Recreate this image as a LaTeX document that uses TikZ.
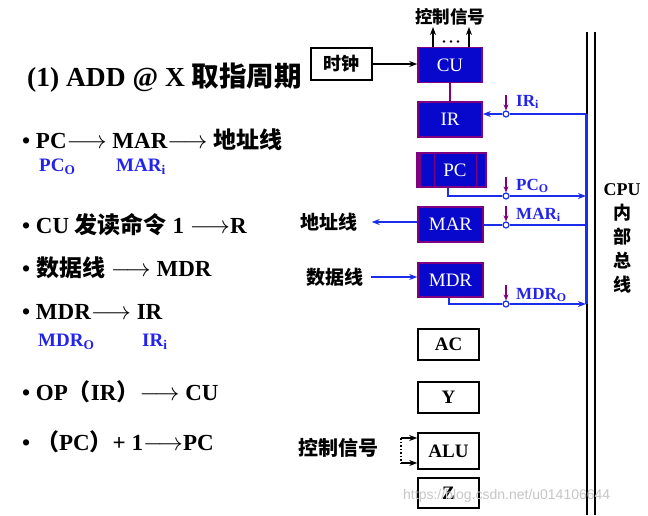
\documentclass[tikz,border=0pt]{standalone}
\usepackage{fontspec}
\setmainfont{Liberation Serif}
\newfontfamily\cjk{Noto Sans CJK SC}
\newfontfamily\wmfont{Liberation Sans}
\newcommand{\zh}[1]{{\cjk #1}}
\usepackage{xcolor}
\usepackage{tikz}
\usetikzlibrary{arrows.meta,positioning,calc}
\definecolor{regblue}{RGB}{8,8,205}
\definecolor{regpurple}{RGB}{128,0,128}
\definecolor{busblue}{RGB}{25,45,235}
\definecolor{sigblue}{RGB}{35,35,235}
\tikzstyle{reg} = [draw=regpurple, fill=regblue, line width=1.6pt, text=white, font=\fontsize{19}{19}\selectfont, minimum width=64pt, minimum height=35pt, inner sep=0pt]
\tikzstyle{wreg} = [draw=black, fill=white, line width=1.6pt, font=\fontsize{19}{19}\selectfont\bfseries, minimum width=61pt, minimum height=31pt, inner sep=0pt]
\tikzstyle{arrow} = [line width=1.2pt,-{Stealth[length=8pt,width=6pt]}]
\tikzstyle{bus} = [draw=busblue, line width=1.8pt]
\tikzstyle{busarrow} = [bus,-{Stealth[length=8pt,width=6pt]}]
\tikzstyle{gate} = [circle, draw=busblue, fill=white, line width=1.2pt, inner sep=0pt, minimum size=6pt]
\tikzstyle{ctrl} = [draw=regpurple, line width=1.4pt, -{Stealth[length=6pt,width=5pt]}]
\tikzstyle{listitem} = [anchor=west, inner sep=0pt, font=\fontsize{23}{23}\selectfont\bfseries]
\tikzstyle{subsig} = [anchor=west, inner sep=0pt, text=sigblue, font=\fontsize{19}{19}\selectfont\bfseries]
\tikzstyle{siglabel} = [anchor=west, inner sep=0pt, text=sigblue, font=\fontsize{17}{17}\selectfont\bfseries]
\tikzstyle{side} = [font=\fontsize{19}{19}\selectfont\bfseries, inner ysep=0pt]

\begin{document}
\begin{tikzpicture}[x=1pt, y=-1pt]
    \fill[white] (0,0) rectangle (648,515);
    \useasboundingbox (0,0) rectangle (648,515);
    % title and steps
    \node[listitem, font=\fontsize{27.5}{27.5}\selectfont\bfseries] (title) at (27,78) {(1) ADD @ X \zh{取指周期}};
    \node[listitem] (l1) at (22,140) {\textbullet\ PC$\longrightarrow$\ MAR$\longrightarrow$\ \zh{地址线}};
    \node[subsig] (s1) at (39,167) {PC\textsubscript{O}};
    \node[subsig] (s2) at (116,167) {MAR\textsubscript{i}};
    \node[listitem] (l2) at (22,225) {\textbullet\ CU \zh{发读命令} 1 $\longrightarrow$R};
    \node[listitem] (l3) at (22,268) {\textbullet\ \zh{数据线} $\longrightarrow$ MDR};
    \node[listitem] (l4) at (22,312) {\textbullet\ MDR$\longrightarrow$\ IR};
    \node[subsig] (s3) at (38,342) {MDR\textsubscript{O}};
    \node[subsig] (s4) at (142,342) {IR\textsubscript{i}};
    \node[listitem] (l5) at (22,392) {\textbullet\ OP\zh{（}IR\zh{）}$\longrightarrow$ CU};
    \node[listitem] (l6) at (22,442) {\textbullet\ \zh{（}PC\zh{）}+ 1$\longrightarrow$PC};
    % registers
    \node[reg] (CU) at (450,65) {CU};
    \node[reg] (IR) at (450,119.5) {IR};
    \node[reg, minimum width=69pt, minimum height=34pt] (PC) at (451.5,170) {\hspace{7pt}PC};
    \draw[regpurple, line width=5pt] ([xshift=2.5pt]PC.north west) -- ([xshift=2.5pt]PC.south west);
    \draw[regpurple, line width=1.4pt] ([xshift=18.5pt]PC.north west) -- ([xshift=18.5pt]PC.south west)
        ([xshift=-10.5pt]PC.north east) -- ([xshift=-10.5pt]PC.south east);
    \node[reg, minimum width=65pt] (MAR) at (450.5,224.5) {MAR};
    \node[reg, minimum width=65pt, minimum height=34pt] (MDR) at (450.5,280) {MDR};
    \node[wreg] (AC) at (448.5,344.5) {AC};
    \node[wreg] (Y) at (448.5,397.5) {Y};
    \node[wreg, minimum height=36pt] (ALU) at (448.5,451) {ALU};
    \node[wreg, minimum height=30pt] (Z) at (448.5,493) {Z};
    % clock and control signals
    \node[draw, line width=1.6pt, minimum width=61pt, minimum height=32pt, inner sep=0pt, font=\fontsize{18}{18}\selectfont\bfseries] (clk) at (341.5,64) {\zh{时钟}};
    \draw[arrow] (clk) -- (clk -| CU.west);
    \node[font=\fontsize{17.5}{17.5}\selectfont\bfseries] (ctl) at (450,17) {\zh{控制信号}};
    \coordinate (ctlL) at (433,27);
    \coordinate (ctlR) at (469,27);
    \draw[arrow] (ctlL |- CU.north) -- (ctlL);
    \draw[arrow] (ctlR |- CU.north) -- (ctlR);
    \foreach \i in {444,451,458}
        \fill (\i,41.5) circle (1.4);
    \draw[regpurple, line width=1.6pt] (IR.north) -- (CU.south);
    % cpu internal bus
    \draw[line width=1.5pt] (587,32) -- (587,515) (595,32) -- (595,515);
    \coordinate (busT) at (586,114);
    \coordinate (busB) at (586,304);
    \draw[bus, line width=3pt] (busT) -- (busB);
    \node[gate] (gIR) at (506,114) {};
    \node[gate] (gPC) at (506,196) {};
    \node[gate] (gMAR) at (506,225) {};
    \node[gate] (gMDR) at (506,304) {};
    \draw[bus] (busT) -- (gIR);
    \draw[busarrow] (gIR) -- (gIR -| IR.east);
    \draw[bus] ([xshift=-3.5pt]PC.south) |- (gPC);
    \draw[busarrow] (gPC) -- (gPC -| busT);
    \draw[bus] (gMAR -| busT) -- (gMAR) -- (gMAR -| MAR.east);
    \draw[bus] ([xshift=-1.5pt]MDR.south) |- (gMDR);
    \draw[busarrow] (gMDR) -- (gMDR -| busB);
    \foreach \g in {gIR,gPC,gMAR,gMDR}
        \draw[ctrl] ([yshift=15pt]\g.north) -- (\g.north);
    \node[siglabel] (tIR) at (516,102) {IR\textsubscript{i}};
    \node[siglabel] (tPC) at (516,186) {PC\textsubscript{O}};
    \node[siglabel] (tMAR) at (516,215) {MAR\textsubscript{i}};
    \node[siglabel] (tMDR) at (516,295) {MDR\textsubscript{O}};
    \node[align=center, font=\fontsize{18}{24}\selectfont\bfseries] (cpubus) at (622,238) {CPU\\\zh{内}\\\zh{部}\\\zh{总}\\\zh{线}};
    % address and data lines
    \node[side, inner xsep=14pt] (addr) at (329,222) {\zh{地址线}};
    \draw[busarrow] (MAR.west |- addr) -- (addr);
    \node[side, inner xsep=8pt] (data) at (334.5,277) {\zh{数据线}};
    \draw[busarrow] (data) -- (data -| MDR.west);
    % alu control
    \node[side, font=\fontsize{20}{20}\selectfont\bfseries] (ctlA) at (338,448) {\zh{控制信号}};
    \coordinate (aluU) at (401,438);
    \coordinate (aluD) at (401,463);
    \draw[arrow] (aluU) -- (aluU -| ALU.west);
    \draw[arrow] (aluD) -- (aluD -| ALU.west);
    \draw[line width=1.5pt, dotted] (aluU) -- (aluD);
    \node[anchor=west, inner sep=0pt, text=gray!45, font=\wmfont\fontsize{14}{14}\selectfont] (wm) at (403,496) {https://blog.csdn.net/u014106644};
\end{tikzpicture}
\end{document}
